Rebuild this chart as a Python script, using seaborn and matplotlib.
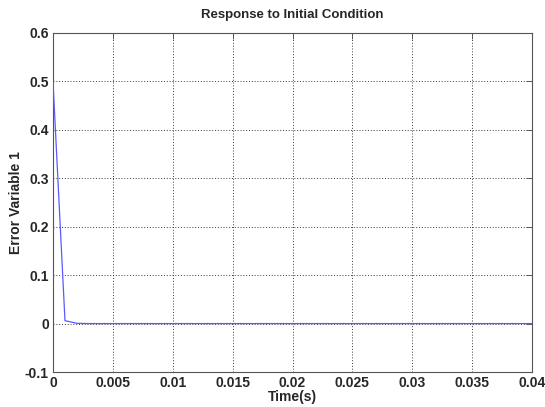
import matplotlib
matplotlib.use("Agg")
import matplotlib.pyplot as plt
import seaborn as sns
import pandas as pd
import numpy as np

time_s = [0.0, 0.001, 0.002, 0.003, 0.004, 0.005, 0.01, 0.015, 0.02, 0.025, 0.03, 0.035, 0.04]
error_var1 = [0.5, 0.006, 0.0005, 0.0, 0.0, 0.0, 0.0, 0.0, 0.0, 0.0, 0.0, 0.0, 0.0]
x_ticks = [0, 0.005, 0.01, 0.015, 0.02, 0.025, 0.03, 0.035, 0.04]
x_tick_labels = ["0", "0.005", "0.01", "0.015", "0.02", "0.025", "0.03", "0.035", "0.04"]
y_ticks = [-0.1, 0, 0.1, 0.2, 0.3, 0.4, 0.5, 0.6]
y_tick_labels = ["-0.1", "0", "0.1", "0.2", "0.3", "0.4", "0.5", "0.6"]

sns.set_style("white")
plt.rcParams['font.family'] = ['Liberation Sans', 'DejaVu Sans']

df = pd.DataFrame({"t": time_s, "e": error_var1})

fig = plt.figure(figsize=(5.45, 4.07), dpi=100)
fig.patch.set_facecolor("white")
ax = fig.add_axes([53/545, (407-372)/407, 479/545, 339/407])
ax.set_axisbelow(True)
sns.lineplot(data=df, x="t", y="e", ax=ax, color="#5a5aff", linewidth=0.9, zorder=5)

ax.set_xlim(0, 0.04)
ax.set_ylim(-0.1, 0.6)
ax.set_xticks(x_ticks)
ax.set_xticklabels(x_tick_labels, fontsize=10, fontweight="bold")
ax.set_yticks(y_ticks)
ax.set_yticklabels(y_tick_labels, fontsize=10, fontweight="bold")
ax.grid(True, color="#222222", linestyle=(0, (1.2, 2.2)), linewidth=0.6)
ax.tick_params(axis="both", direction="in", length=4, width=0.6, color="#444444", pad=3, top=True, right=True)
for s in ax.spines.values():
    s.set_color("#555555")
    s.set_linewidth(0.8)
ax.set_xlabel("Time(s)", fontsize=10, fontweight="bold", labelpad=0)
ax.set_ylabel("Error Variable 1", fontsize=10, fontweight="bold", labelpad=1)
ax.set_title("Response to Initial Condition", fontsize=9.5, fontweight="bold", pad=11)

fig.savefig("out.png", dpi=100, facecolor="white")
